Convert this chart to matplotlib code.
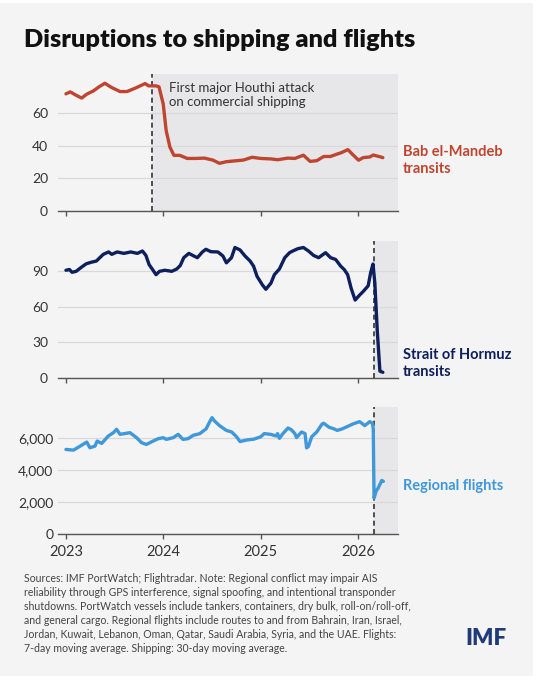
import matplotlib
matplotlib.use("Agg")
import matplotlib.pyplot as plt
import pandas as pd
from matplotlib.patches import Rectangle
from matplotlib.ticker import FuncFormatter

plt.rcParams["font.family"] = ["Lato", "DejaVu Sans"]

# Bab el-Mandeb transits (30-day moving average)
bab_dates = ["2023-01-01", "2023-01-17", "2023-02-05", "2023-03-01", "2023-03-20",
             "2023-04-14", "2023-05-05", "2023-05-27", "2023-06-21", "2023-07-23",
             "2023-08-18", "2023-09-18", "2023-10-25", "2023-11-07", "2023-12-05",
             "2023-12-16", "2024-01-01", "2024-01-12", "2024-01-26", "2024-02-10",
             "2024-03-03", "2024-03-31", "2024-05-01", "2024-06-03", "2024-07-05",
             "2024-07-30", "2024-08-25", "2024-10-02", "2024-10-28", "2024-11-29",
             "2025-01-01", "2025-02-08", "2025-03-05", "2025-04-13", "2025-05-09",
             "2025-06-10", "2025-07-05", "2025-07-30", "2025-08-25", "2025-09-19",
             "2025-10-15", "2025-10-28", "2025-11-24", "2025-12-10", "2026-01-03",
             "2026-01-20", "2026-02-14", "2026-02-27", "2026-03-18", "2026-04-04"]
bab_values = [72, 73.2, 71.4, 69.4, 71.8, 73.8, 76.3, 78.5, 75.9, 73.4,
              73.4, 75.5, 78.3, 76.9, 76.9, 76.3, 65.7, 49.4, 39.3, 34.2,
              34.2, 32.3, 32.3, 32.5, 31.3, 29.3, 30.3, 30.9, 31.3, 33,
              32.3, 32, 31.5, 32.5, 32.3, 34.3, 30.5, 30.9, 33.5, 33.5,
              35, 35.7, 37.7, 35, 31.2, 32.8, 33.2, 34.4, 33.6, 32.8]

# Strait of Hormuz transits (30-day moving average)
hormuz_dates = ["2023-01-01", "2023-01-14", "2023-01-24", "2023-02-08", "2023-03-01",
                "2023-03-18", "2023-04-06", "2023-04-25", "2023-05-21", "2023-06-10",
                "2023-06-22", "2023-07-12", "2023-08-06", "2023-09-01", "2023-09-26",
                "2023-10-15", "2023-10-28", "2023-11-09", "2023-11-22", "2023-12-05",
                "2023-12-18", "2024-01-07", "2024-02-02", "2024-02-21", "2024-03-05",
                "2024-03-18", "2024-04-06", "2024-04-25", "2024-05-08", "2024-05-27",
                "2024-06-09", "2024-06-28", "2024-07-24", "2024-08-12", "2024-08-25",
                "2024-09-13", "2024-09-26", "2024-10-15", "2024-11-03", "2024-11-22",
                "2024-12-05", "2024-12-18", "2025-01-07", "2025-01-20", "2025-02-08",
                "2025-02-21", "2025-03-12", "2025-04-01", "2025-04-19", "2025-05-01",
                "2025-05-21", "2025-06-10", "2025-06-29", "2025-07-18", "2025-08-06",
                "2025-09-01", "2025-09-20", "2025-10-09", "2025-10-28", "2025-11-10",
                "2025-11-23", "2025-12-06", "2025-12-21", "2026-01-07", "2026-01-20",
                "2026-02-08", "2026-02-17", "2026-02-26", "2026-03-05", "2026-03-14",
                "2026-03-24", "2026-04-04"]
hormuz_values = [90.3, 90.9, 88.6, 89.4, 93, 95.7, 97, 98, 103.6, 105.6,
                 103.6, 105.6, 104.4, 105.6, 104.4, 106.4, 102.7, 95, 90.9, 86.6,
                 89.4, 90.3, 89.4, 91.4, 94.3, 100.8, 104.4, 102.2, 100.8, 105.6,
                 107.8, 105.8, 105.6, 102.2, 96.5, 100.8, 109.3, 107.3, 102.2, 98,
                 93.7, 85.2, 78.1, 74.4, 79.5, 86.6, 91.4, 100.8, 105, 106.4,
                 108.4, 109.3, 106.4, 102.7, 100.8, 105, 100.8, 99.3, 93.7, 90.9,
                 86.6, 75.3, 65.4, 69.6, 72.5, 77.3, 88, 95.5, 79.5, 40,
                 6, 5]

# Regional flights (7-day moving average)
flight_dates = ["2023-01-01", "2023-01-29", "2023-02-17", "2023-03-20", "2023-04-01",
                "2023-04-20", "2023-04-28", "2023-05-15", "2023-06-09", "2023-06-28",
                "2023-07-10", "2023-07-23", "2023-08-29", "2023-09-23", "2023-10-12",
                "2023-10-30", "2023-11-24", "2023-12-13", "2024-01-01", "2024-01-13",
                "2024-02-07", "2024-02-26", "2024-03-15", "2024-04-03", "2024-04-22",
                "2024-05-17", "2024-06-10", "2024-06-22", "2024-07-02", "2024-07-11",
                "2024-07-30", "2024-08-25", "2024-09-14", "2024-10-02", "2024-10-15",
                "2024-11-10", "2024-12-06", "2025-01-01", "2025-01-14", "2025-02-08",
                "2025-02-27", "2025-03-05", "2025-03-12", "2025-03-25", "2025-04-13",
                "2025-04-25", "2025-05-09", "2025-05-15", "2025-06-03", "2025-06-16",
                "2025-06-22", "2025-06-29", "2025-07-11", "2025-07-30", "2025-08-19",
                "2025-08-25", "2025-09-14", "2025-10-02", "2025-10-15", "2025-11-03",
                "2025-11-23", "2025-12-12", "2026-01-07", "2026-01-26", "2026-02-14",
                "2026-02-24", "2026-02-27", "2026-03-02", "2026-03-10", "2026-03-18",
                "2026-03-31", "2026-04-06"]
flight_values = [5305, 5263, 5450, 5768, 5410, 5516, 5832, 5684, 6147, 6358,
                 6568, 6253, 6358, 6042, 5726, 5620, 5832, 5979, 6042, 5937,
                 6042, 6253, 5937, 5979, 6189, 6295, 6600, 7000, 7300, 7100,
                 6800, 6500, 6400, 6100, 5800, 5900, 5950, 6100, 6300, 6250,
                 6150, 6300, 6000, 6300, 6650, 6550, 6300, 6050, 6400, 6300,
                 5400, 5500, 6100, 6400, 6900, 6950, 6700, 6600, 6500, 6600,
                 6750, 6900, 7050, 6800, 7050, 6950, 6600, 2250, 2700, 2900,
                 3360, 3300]

houthi_date = "2023-11-19"
hormuz_event_date = "2026-02-28"
years = [2023, 2024, 2025, 2026]

title = "Disruptions to shipping and flights"
note = ("Sources: IMF PortWatch; Flightradar. Note: Regional conflict may impair AIS\n"
        "reliability through GPS interference, signal spoofing, and intentional transponder\n"
        "shutdowns. PortWatch vessels include tankers, containers, dry bulk, roll-on/roll-off,\n"
        "and general cargo. Regional flights include routes to and from Bahrain, Iran, Israel,\n"
        "Jordan, Kuwait, Lebanon, Oman, Qatar, Saudi Arabia, Syria, and the UAE. Flights:\n"
        "7-day moving average. Shipping: 30-day moving average.")

BG = "#f4f4f4"
SHADE = "#e7e7e9"
W, H = 537, 680


def fx(x):
    return x / W


def fy(y):
    return 1 - y / H


fig = plt.figure(figsize=(5.37, 6.8), dpi=100)
fig.patch.set_facecolor("white")
fig.add_artist(Rectangle((0, fy(676)), fx(533), fy(3) - fy(676),
                         transform=fig.transFigure, facecolor=BG,
                         edgecolor="none", zorder=-10))

panels = [
    dict(dates=bab_dates, values=bab_values, color="#bf4530", ylim=(0, 84),
         yticks=[0, 20, 40, 60], event=houthi_date, top=74.3, bottom=211,
         ypad=7, label="Bab el-Mandeb\ntransits", label_y=160.5),
    dict(dates=hormuz_dates, values=hormuz_values, color="#0d1f5c", ylim=(0, 115),
         yticks=[0, 30, 60, 90], event=hormuz_event_date, top=240.7, bottom=378.3,
         ypad=7, label="Strait of Hormuz\ntransits", label_y=363.5),
    dict(dates=flight_dates, values=flight_values, color="#3e98da", ylim=(0, 8000),
         yticks=[0, 2000, 4000, 6000], event=hormuz_event_date, top=406.5, bottom=534,
         ypad=3, label="Regional flights", label_y=486),
]

xmin = pd.Timestamp("2022-12-01")
xmax = pd.Timestamp("2026-06-01")

for i, p in enumerate(panels):
    ax = fig.add_axes([fx(57.7), fy(p["bottom"]), fx(398.3) - fx(57.7),
                       fy(p["top"]) - fy(p["bottom"])])
    ax.set_facecolor("none")
    ev = pd.Timestamp(p["event"])
    ax.axvspan(ev, xmax, color=SHADE, lw=0, zorder=0)
    ax.axvline(ev, color="#333333", lw=1.2, ls=(0, (3, 2)), zorder=3)
    ax.plot(pd.to_datetime(p["dates"]), p["values"], color=p["color"], lw=2.4,
            zorder=4, solid_joinstyle="round", solid_capstyle="round")

    ax.set_xlim(xmin, xmax)
    ax.set_ylim(*p["ylim"])
    ax.set_yticks(p["yticks"])
    ax.yaxis.set_major_formatter(FuncFormatter(lambda v, pos: f"{int(v):,}"))
    ax.grid(axis="y", color="#d9d9d9", lw=0.9)
    ax.set_xticks([pd.Timestamp(f"{y}-01-01") for y in years])
    if i == len(panels) - 1:
        ax.set_xticklabels([str(y) for y in years])
    else:
        ax.set_xticklabels([])

    for s in ["top", "left", "right"]:
        ax.spines[s].set_visible(False)
    ax.spines["bottom"].set_color("#555555")
    ax.spines["bottom"].set_linewidth(1)
    ax.tick_params(axis="x", length=3.6, width=1, color="#555555", labelsize=10.5,
                   pad=4.5, labelcolor="#333333")
    ax.tick_params(axis="y", length=0, pad=p["ypad"], labelsize=10,
                   labelcolor="#333333")

    fig.text(fx(402.7), fy(p["label_y"]), p["label"], color=p["color"],
             fontsize=10.5, fontweight="bold", ha="left", va="center",
             linespacing=1.2)

fig.text(fx(169), fy(95.5), "First major Houthi attack\non commercial shipping",
         fontsize=9.5, color="#333333", ha="left", va="center", linespacing=1.2)

fig.text(fx(24), fy(40), title, fontsize=18.2, fontweight="heavy", color="#111111",
         ha="left", va="center")

fig.text(fx(24), fy(573), note, fontsize=7.6, color="#444444", ha="left",
         va="top", linespacing=1.33)

fig.text(fx(485.6), fy(638.3), "IMF", fontsize=16, fontweight="heavy",
         color="#1f3c78", ha="center", va="center")

fig.savefig("out.png", dpi=100, facecolor=fig.get_facecolor())
